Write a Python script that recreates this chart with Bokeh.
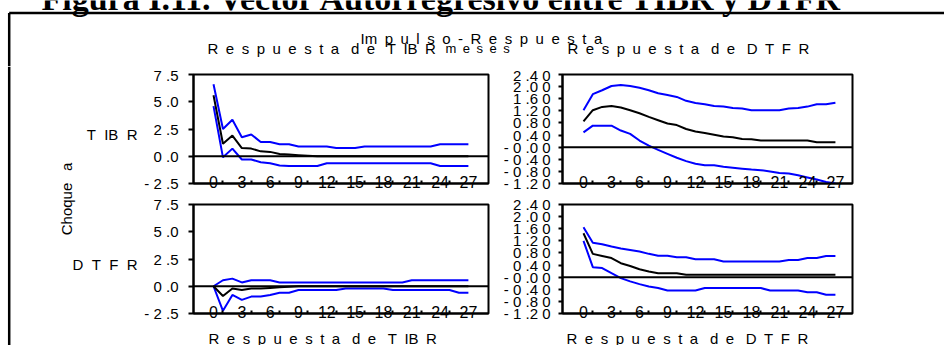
import math
from bokeh.plotting import figure
from bokeh.layouts import row, column
from bokeh.models import Range1d, Span, FixedTicker, LinearAxis
from bokeh.embed import file_html
from bokeh.resources import INLINE
from bokeh.core.properties import value

EN = "\u2002"
NB = "\u00a0"
SANS = "Liberation Sans"
SERIF = "Liberation Serif"

# ---------------- data ----------------
periods = list(range(28))

# shock to TIBR -> response of TIBR
tibr_tibr = [5.6, 1.15, 1.9, 0.75, 0.7, 0.45, 0.4, 0.2, 0.15, 0.1, 0.05, 0.0, 0.0, 0.0,
             0.0, 0.0, 0.0, 0.0, 0.0, 0.0, 0.0, 0.0, 0.0, 0.0, 0.0, 0.0, 0.0, 0.0]
tibr_tibr_hi = [6.6, 2.5, 3.35, 1.75, 2.0, 1.3, 1.3, 1.1, 1.1, 0.9, 0.9, 0.9, 0.9, 0.75,
                0.75, 0.75, 0.9, 0.9, 0.9, 0.9, 0.9, 0.9, 0.9, 0.9, 1.1, 1.1, 1.1, 1.1]
tibr_tibr_lo = [4.6, -0.1, 0.7, -0.3, -0.3, -0.55, -0.65, -0.85, -0.9, -0.9, -0.9, -0.9, -0.65, -0.65,
                -0.65, -0.65, -0.65, -0.65, -0.65, -0.65, -0.65, -0.65, -0.65, -0.65, -0.9, -0.9, -0.9, -0.9]

# shock to TIBR -> response of DTFR
dtfr_tibr = [0.85, 1.22, 1.33, 1.36, 1.31, 1.22, 1.12, 1.0, 0.89, 0.78, 0.73, 0.6, 0.52, 0.47,
             0.41, 0.35, 0.33, 0.27, 0.26, 0.22, 0.22, 0.22, 0.22, 0.22, 0.22, 0.16, 0.16, 0.16]
dtfr_tibr_hi = [1.22, 1.75, 1.88, 2.02, 2.05, 2.02, 1.96, 1.88, 1.78, 1.72, 1.66, 1.53, 1.46, 1.42,
                1.36, 1.34, 1.29, 1.28, 1.22, 1.22, 1.22, 1.22, 1.28, 1.29, 1.34, 1.42, 1.42, 1.47]
dtfr_tibr_lo = [0.49, 0.71, 0.71, 0.71, 0.55, 0.44, 0.22, 0.05, -0.09, -0.22, -0.35, -0.46, -0.55, -0.6,
                -0.6, -0.65, -0.68, -0.71, -0.74, -0.76, -0.8, -0.85, -0.87, -0.93, -1.0, -1.07, -1.15, -1.2]

# shock to DTFR -> response of TIBR
tibr_dtfr = [0.0, -0.9, -0.2, -0.35, -0.2, -0.2, -0.15, -0.1, -0.05, 0.0, 0.0, 0.0, 0.0, 0.0,
             0.0, 0.0, 0.0, 0.0, 0.0, 0.0, 0.0, 0.0, 0.0, 0.0, 0.0, 0.0, 0.0, 0.0]
tibr_dtfr_hi = [0.0, 0.55, 0.7, 0.35, 0.55, 0.55, 0.55, 0.35, 0.35, 0.35, 0.35, 0.35, 0.35, 0.35,
                0.35, 0.35, 0.35, 0.35, 0.35, 0.35, 0.35, 0.55, 0.55, 0.55, 0.55, 0.55, 0.55, 0.55]
tibr_dtfr_lo = [0.0, -2.25, -0.8, -1.25, -0.95, -0.95, -0.8, -0.6, -0.6, -0.35, -0.35, -0.35, -0.35, -0.35,
                -0.2, -0.2, -0.2, -0.2, -0.2, -0.35, -0.35, -0.35, -0.35, -0.35, -0.35, -0.35, -0.6, -0.6]

# shock to DTFR -> response of DTFR
dtfr_dtfr = [1.45, 0.77, 0.7, 0.63, 0.46, 0.37, 0.26, 0.19, 0.13, 0.13, 0.13, 0.08, 0.08, 0.08,
             0.08, 0.08, 0.08, 0.08, 0.08, 0.08, 0.08, 0.08, 0.08, 0.08, 0.08, 0.08, 0.08, 0.08]
dtfr_dtfr_hi = [1.65, 1.14, 1.09, 1.01, 0.95, 0.9, 0.85, 0.77, 0.71, 0.71, 0.66, 0.66, 0.59, 0.59,
                0.59, 0.52, 0.52, 0.52, 0.52, 0.52, 0.52, 0.52, 0.57, 0.57, 0.63, 0.63, 0.7, 0.7]
dtfr_dtfr_lo = [1.2, 0.33, 0.3, 0.13, -0.03, -0.14, -0.23, -0.31, -0.36, -0.44, -0.44, -0.44, -0.44, -0.36,
                -0.36, -0.36, -0.36, -0.36, -0.36, -0.36, -0.44, -0.44, -0.44, -0.44, -0.5, -0.5, -0.58, -0.58]

x_ticks = [0, 3, 6, 9, 12, 15, 18, 21, 24, 27]
x_minor_ticks = [1, 4, 7, 10, 13, 16, 19, 22, 25]

y_ticks_tibr = [-2.5, 0.0, 2.5, 5.0, 7.5]
y_labels_tibr = ["- 2 .5", "0 .0", "2 .5", "5 .0", "7 .5"]
y_ticks_dtfr = [-1.2, -0.8, -0.4, 0.0, 0.4, 0.8, 1.2, 1.6, 2.0, 2.4]
y_labels_dtfr = ["- 1 .2 0", "- 0 .8 0", "- 0 .4 0", "- 0 .0 0", "0 .4 0",
                 "0 .8 0", "1 .2 0", "1 .6 0", "2 .0 0", "2 .4 0"]

title_text = "Figura I.11.  Vector Autorregresivo entre  TIBR  y  DTFR"
main_text = EN.join(["Im", "p", "u", "l", "s", "o", "-", "R", "e", "s", "p", "u", "e", "s", "t", "a"])
WORD = EN + NB
resp_tibr = WORD.join([EN.join(list("Respuesta")), EN.join(list("de")), EN.join(["T", "IB", "R"])])
resp_dtfr = WORD.join([EN.join(list("Respuesta")), EN.join(list("de")), EN.join(["D", "T", "F", "R"])])
meses_text = EN.join(list("meses"))
row_tibr = (NB + NB).join(["T", "IB", "R"])
row_dtfr = (NB + NB).join(["D", "T", "F", "R"])
choque_text = "Choque" + EN + NB + "a"

BLUE = "#0000ff"


def canvas(width, height, x0, y0):
    # a plain drawing surface whose ranges are the page coordinates it covers
    p = figure(width=width, height=height,
               x_range=Range1d(x0, x0 + width), y_range=Range1d(y0 + height, y0),
               output_backend="svg", toolbar_location=None,
               x_axis_location=None, y_axis_location=None, min_border=0)
    p.xgrid.visible = False
    p.ygrid.visible = False
    p.outline_line_color = None
    p.background_fill_color = "white"
    p.border_fill_color = "white"
    return p


def txt(p, x, y, s, size="15px", align="left", font=SANS, style="normal", angle=0.0):
    p.text(x=[x], y=[y], text=[s], text_font=value(font), text_font_size=value(size),
           text_font_style=style, text_align=align, text_baseline="middle",
           text_color="black", angle=angle)


def panel(width, height, borders, xr, yr, yticks, ylabels, mid, hi, lo, tick_out, standoff):
    bl, br, bt, bb = borders
    p = figure(width=width, height=height, x_range=Range1d(*xr), y_range=Range1d(*yr),
               output_backend="svg", toolbar_location=None,
               x_axis_location=None, y_axis_location="left",
               min_border_left=bl, min_border_right=br, min_border_top=bt, min_border_bottom=bb)
    p.xgrid.visible = False
    p.ygrid.visible = False
    p.outline_line_color = "black"
    p.outline_line_width = 2
    p.background_fill_color = "white"
    p.border_fill_color = "white"

    ya = p.yaxis[0]
    ya.ticker = FixedTicker(ticks=yticks, minor_ticks=[])
    ya.major_label_overrides = dict(zip(yticks, ylabels))
    ya.axis_line_width = 2
    ya.major_tick_in = 0
    ya.major_tick_out = tick_out
    ya.major_tick_line_width = 2
    ya.minor_tick_in = 0
    ya.minor_tick_out = 0
    ya.major_label_standoff = standoff
    ya.major_label_text_font = SANS
    ya.major_label_text_font_size = "15px"
    ya.major_label_text_color = "black"

    xa = LinearAxis(ticker=FixedTicker(ticks=x_ticks, minor_ticks=x_minor_ticks))
    xa.axis_line_width = 2
    xa.major_tick_in = 0
    xa.major_tick_out = 0
    xa.minor_tick_in = 3
    xa.minor_tick_out = 0
    xa.minor_tick_line_width = 2
    xa.major_label_standoff = -8
    xa.major_label_text_font = SANS
    xa.major_label_text_font_size = "16px"
    xa.major_label_text_color = "black"
    p.add_layout(xa, "below")

    p.line(periods, hi, line_color=BLUE, line_width=2)
    p.line(periods, lo, line_color=BLUE, line_width=2)
    p.line(periods, mid, line_color="black", line_width=2)
    p.add_layout(Span(location=0, dimension="width", line_color="black", line_width=2))
    return p


XR_L = (-2.12, 29.13)
XR_R = (-2.25, 28.83)
YR_T = (-2.5, 7.5)
YR_D = (-1.2, 2.4)

tl = panel(350, 128, (53, 2, 8, 10), XR_L, YR_T, y_ticks_tibr, y_labels_tibr,
           tibr_tibr, tibr_tibr_hi, tibr_tibr_lo, 5, 10)
tr = panel(454, 128, (72, 92, 7, 11), XR_R, YR_D, y_ticks_dtfr, y_labels_dtfr,
           dtfr_tibr, dtfr_tibr_hi, dtfr_tibr_lo, 4, 8)
bl = panel(350, 134, (53, 2, 10, 15), XR_L, YR_T, y_ticks_tibr, y_labels_tibr,
           tibr_dtfr, tibr_dtfr_hi, tibr_dtfr_lo, 5, 10)
br = panel(454, 134, (72, 92, 10, 14), XR_R, YR_D, y_ticks_dtfr, y_labels_dtfr,
           dtfr_dtfr, dtfr_dtfr_hi, dtfr_dtfr_lo, 4, 8)

# header (page coordinates x 0..944, y 0..66)
hdr = canvas(944, 66, 0, 0)
hdr.segment(x0=[8.7, 8.7], y0=[12.5, 12.5], x1=[944, 8.7], y1=[12.5, 66], line_color="black", line_width=2.5)
txt(hdr, 41, -2, title_text, size="34px", font=SERIF, style="bold")
txt(hdr, 360, 37.8, main_text, size="15px")
txt(hdr, 207, 47.8, resp_tibr, size="15px")
txt(hdr, 445, 47.5, meses_text, size="13px")
txt(hdr, 567, 47.8, resp_dtfr, size="15px")

# left strip (page x 0..140, y 66..345)
lft = canvas(140, 279, 0, 66)
lft.segment(x0=[8.7], y0=[66], x1=[8.7], y1=[345], line_color="black", line_width=2.5)
txt(lft, 137, 134, row_tibr, align="right")
txt(lft, 137, 263.5, row_dtfr, align="right")
txt(lft, 66, 198.5, choque_text, align="center", angle=math.pi / 2)

# footer (page x 140..944, y 328..345)
ftr = canvas(804, 17, 140, 328)
txt(ftr, 208, 337.5, resp_tibr, size="15px")
txt(ftr, 566, 337.5, resp_dtfr, size="15px")

body = column(row(tl, tr), row(bl, br), ftr)
root = column(hdr, row(lft, body))

open("out.html", "w").write(file_html(root, INLINE))
